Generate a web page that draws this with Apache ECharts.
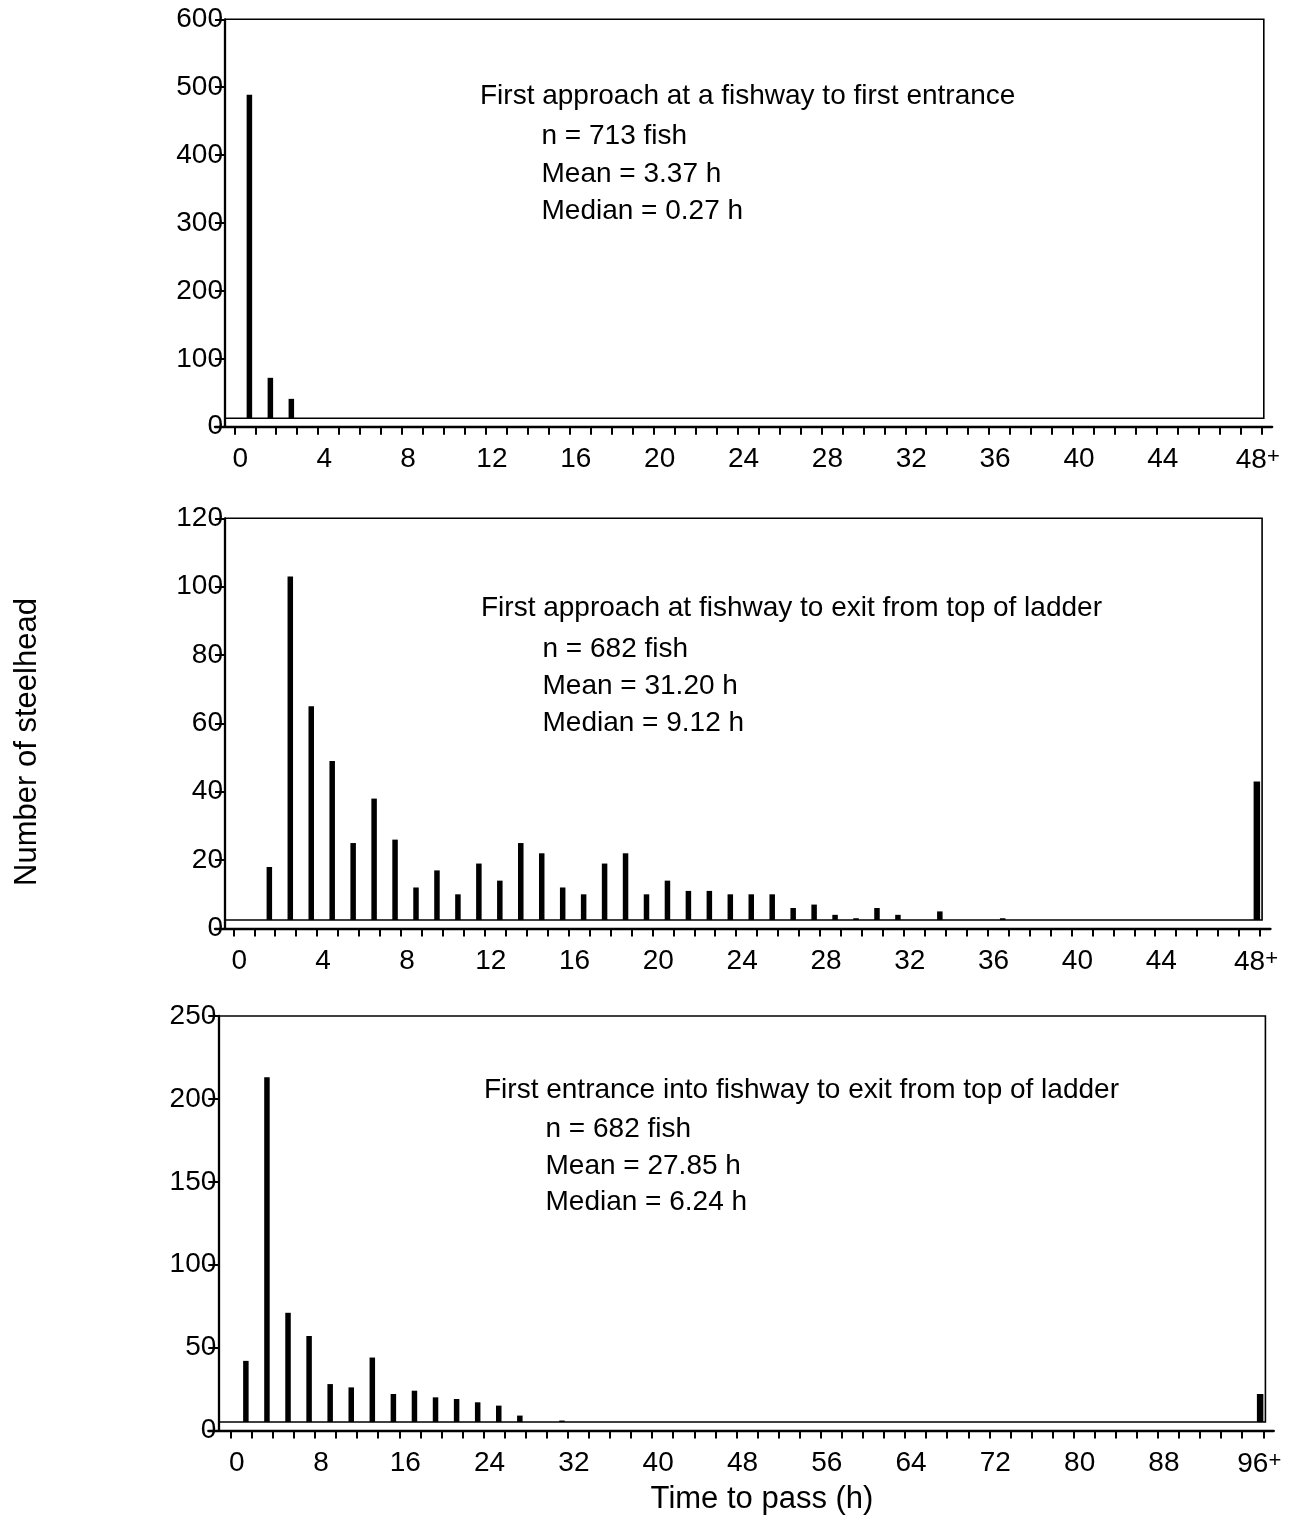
<!DOCTYPE html>
<html><head><meta charset="utf-8">
<script src="https://cdn.jsdelivr.net/npm/echarts@6/dist/echarts.min.js"></script>
<style>html,body{margin:0;padding:0;background:#fff}#c{width:1299px;height:1523px}</style>
</head><body><div id="c"></div>
<script>
// ---------------- DATA ----------------
// Panel A: first approach at a fishway to first entrance (1-h bins, last = 48+)
const binStartA = [0,1,2,3,4,5,6,7,8,9,10,11,12,13,14,15,16,17,18,19,20,21,22,23,24,25,26,27,28,29,30,31,32,33,34,35,36,37,38,39,40,41,42,43,44,45,46,47,48];
const countsA   = [489,72,41,0,0,0,0,0,0,0,0,0,0,0,0,0,0,0,0,0,0,0,0,0,0,0,0,0,0,0,0,0,0,0,0,0,0,0,0,0,0,0,0,0,0,0,0,0,0];
// Panel B: first approach at fishway to exit from top of ladder (1-h bins, last = 48+)
const binStartB = [0,1,2,3,4,5,6,7,8,9,10,11,12,13,14,15,16,17,18,19,20,21,22,23,24,25,26,27,28,29,30,31,32,33,34,35,36,37,38,39,40,41,42,43,44,45,46,47,48];
const countsB   = [0,18,103,65,49,25,38,26,12,17,10,19,14,25,22,12,10,19,22,10,14,11,11,10,10,10,6,7,4,3,6,4,0,5,0,0,3,0,0,0,0,0,0,0,0,0,0,0,43];
// Panel C: first entrance into fishway to exit from top of ladder (2-h bins, last = 96+)
const binStartC = [0,2,4,6,8,10,12,14,16,18,20,22,24,26,28,30,32,34,36,38,40,42,44,46,48,50,52,54,56,58,60,62,64,66,68,70,72,74,76,78,80,82,84,86,88,90,92,94,96];
const countsC   = [42,213,71,57,28,26,44,22,24,20,19,17,15,9,0,6,0,0,0,0,0,0,0,0,0,0,0,0,0,0,0,0,0,0,0,0,0,0,0,0,0,0,0,0,0,0,0,0,22];

// Tick labels
const xLabelValuesAB = [0,4,8,12,16,20,24,28,32,36,40,44,48];
const xLabelTextAB   = ['0','4','8','12','16','20','24','28','32','36','40','44','48+'];
const xLabelValuesC  = [0,8,16,24,32,40,48,56,64,72,80,88,96];
const xLabelTextC    = ['0','8','16','24','32','40','48','56','64','72','80','88','96+'];
const yTicksA = [0,100,200,300,400,500,600];
const yTicksB = [0,20,40,60,80,100,120];
const yTicksC = [0,50,100,150,200,250];

const notesA = ['First approach at a fishway to first entrance','n = 713 fish','Mean = 3.37 h','Median = 0.27 h'];
const notesB = ['First approach at fishway to exit from top of ladder','n = 682 fish','Mean = 31.20 h','Median = 9.12 h'];
const notesC = ['First entrance into fishway to exit from top of ladder','n = 682 fish','Mean = 27.85 h','Median = 6.24 h'];
const yTitle = 'Number of steelhead';
const xTitle = 'Time to pass (h)';

// ---------------- LAYOUT / STYLE ----------------
const FONT = '"Liberation Sans", Arial, Helvetica, sans-serif';
const BAR_FRAC = 0.72, OVER_FRAC = 0.85, BASE_GAP = 8.5;
const NBINS = 49;
const panels = [
  {axisX:225,   t0:234.3, tEnd:1261.7, top:19.3,  zero:426.7,  binH:1, cats:binStartA, vals:countsA, lv:xLabelValuesAB, lt:xLabelTextAB, yt:yTicksA,
   notes:notesA, nx:[480,541.5], ny:[96,136,174,211]},
  {axisX:225,   t0:233.3, tEnd:1260,   top:518.3, zero:928.5,  binH:1, cats:binStartB, vals:countsB, lv:xLabelValuesAB, lt:xLabelTextAB, yt:yTicksB,
   notes:notesB, nx:[481,542.5], ny:[608,649,686,723]},
  {axisX:218.3, t0:230.7, tEnd:1263.3, top:1016,  zero:1430.5, binH:2, cats:binStartC, vals:countsC, lv:xLabelValuesC,  lt:xLabelTextC,  yt:yTicksC,
   notes:notesC, nx:[484,545.5], ny:[1090,1129,1166,1202]}
];

const grids = [], xAxes = [], yAxes = [], series = [], graphics = [];
panels.forEach((p, i) => {
  const gl = p.axisX - 10, gr = p.tEnd + 10.5;
  const ppb = (p.tEnd - p.t0) / NBINS;
  const xmin = -(p.t0 - gl) / ppb * p.binH;
  const xmax = (NBINS + (gr - p.tEnd) / ppb) * p.binH;
  const lastCat = p.cats[p.cats.length - 1];
  const tickVals = p.cats.concat([lastCat + p.binH]);
  const ymax = p.yt[p.yt.length - 1];
  grids.push({left: gl, top: p.top, width: gr - gl, height: p.zero - p.top, containLabel: false});
  const labelMap = {};
  p.lv.forEach((v, k) => labelMap[v] = p.lt[k]);
  xAxes.push({
    type: 'value', gridIndex: i, min: xmin, max: xmax,
    axisLine: {show: true, onZero: false, lineStyle: {color: '#000', width: 2.3}},
    axisTick: {show: true, inside: false, length: 8, customValues: tickVals, lineStyle: {color: '#000', width: 2}},
    axisLabel: {
      show: true, customValues: p.lv, margin: 19, color: '#000', fontSize: 28, fontFamily: FONT,
      padding: [0, 0, 0, 12],
      formatter: (v) => {
        const s = labelMap[v] !== undefined ? labelMap[v] : String(v);
        if (s.endsWith('+')) return '{n|' + s.slice(0, -1) + '}{s|+}';
        return s;
      },
      rich: {
        n: {fontSize: 28, fontFamily: FONT, color: '#000', padding: [0, 0, 0, 22]},
        s: {fontSize: 22, fontFamily: FONT, color: '#000', verticalAlign: 'top', padding: [0, 0, 8, 0]}
      }
    },
    splitLine: {show: false}
  });
  yAxes.push({
    type: 'value', gridIndex: i, min: 0, max: ymax, offset: -10,
    axisLine: {show: true, onZero: false, lineStyle: {color: '#000', width: 2.3}},
    axisTick: {show: true, inside: false, length: 10, customValues: p.yt, lineStyle: {color: '#000', width: 2}},
    axisLabel: {show: true, customValues: p.yt, margin: 2, color: '#000', fontSize: 28, fontFamily: FONT},
    splitLine: {show: false}
  });
  // frame (top, right, inner baseline)
  const xRight = (NBINS + 0.1) * p.binH;
  series.push({
    type: 'custom', xAxisIndex: i, yAxisIndex: i, silent: true, z: 1,
    data: [[0, 0]],
    renderItem: (params, api) => {
      const cs = params.coordSys;
      const left = cs.x + 10;
      const z0 = api.coord([0, 0]);
      const baseY = z0[1] - BASE_GAP;
      const tr = api.coord([xRight, ymax]);
      return {type: 'polyline', shape: {points: [[left, tr[1]], [tr[0], tr[1]], [tr[0], baseY], [left, baseY]]},
              style: {stroke: '#000', lineWidth: 1.6, fill: null}};
    }
  });
  // bars
  series.push({
    type: 'custom', xAxisIndex: i, yAxisIndex: i, silent: true, z: 2,
    data: p.cats.map((c, k) => [c, p.vals[k]]),
    renderItem: (params, api) => {
      const c = api.value(0), v = api.value(1);
      const over = c === lastCat;
      const xc = c + (over ? OVER_FRAC : BAR_FRAC) * p.binH;
      const z0 = api.coord([xc, 0]);
      const tp = api.coord([xc, v]);
      const baseY = z0[1] - BASE_GAP;
      if (!(tp[1] < baseY)) return null;
      const w = over ? 6.5 : 5.5;
      return {type: 'rect', shape: {x: tp[0] - w / 2, y: tp[1], width: w, height: baseY - tp[1]}, style: {fill: '#000'}};
    }
  });
  // annotation text
  p.notes.forEach((t, k) => {
    graphics.push({type: 'text', x: k === 0 ? p.nx[0] : p.nx[1], y: p.ny[k],
      style: {text: t, fill: '#000', font: '28px ' + FONT, textAlign: 'left', textVerticalAlign: 'middle'}});
  });
});
graphics.push({type: 'text', x: 27, y: 742, rotation: Math.PI / 2,
  style: {text: yTitle, fill: '#000', font: '31px ' + FONT, textAlign: 'center', textVerticalAlign: 'middle'}});
graphics.push({type: 'text', x: 762, y: 1499,
  style: {text: xTitle, fill: '#000', font: '31px ' + FONT, textAlign: 'center', textVerticalAlign: 'middle'}});

const chart = echarts.init(document.getElementById('c'), null, {renderer: 'canvas'});
chart.setOption({
  animation: false,
  backgroundColor: '#fff',
  grid: grids, xAxis: xAxes, yAxis: yAxes, series: series, graphic: graphics
});
</script></body></html>
